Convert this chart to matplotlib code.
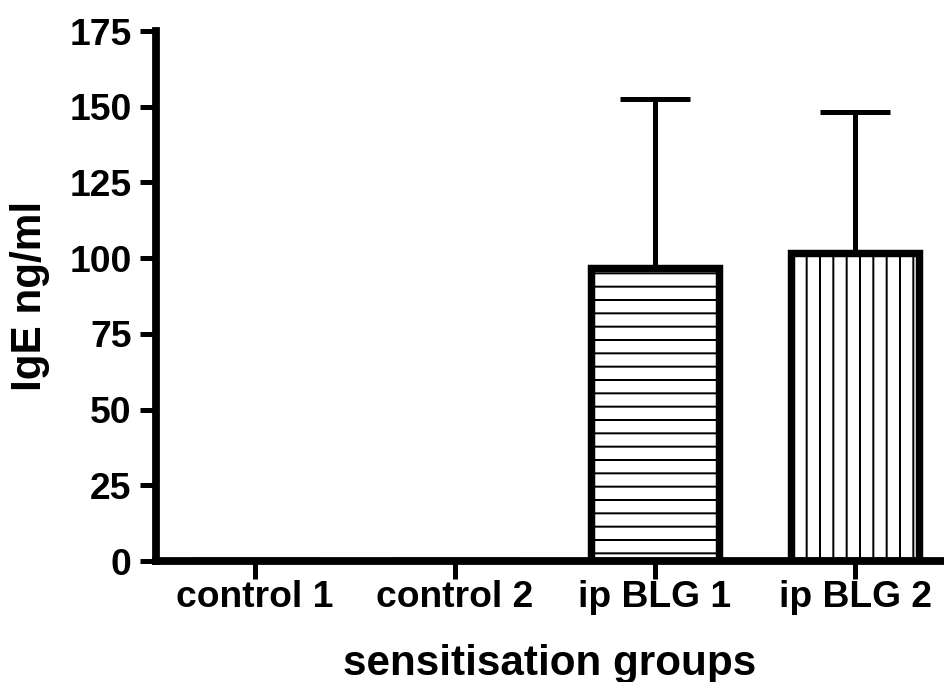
import numpy as np
import matplotlib
matplotlib.use("Agg")
import matplotlib.pyplot as plt

# values
groups = ["control 1", "control 2", "ip BLG 1", "ip BLG 2"]
igE_mean = [0, 0, 96.7, 101.6]
igE_err = [0, 0, 56.0, 46.7]
hatches = ["", "", "-", "|"]

plt.rcParams["font.family"] = ["Liberation Sans", "DejaVu Sans"]
plt.rcParams["font.weight"] = "bold"
plt.rcParams["hatch.linewidth"] = 1.8

fig = plt.figure(figsize=(11.8, 8.525), dpi=80)
ax = fig.add_axes([0.1653, 0.1774, 0.8347, 0.7771])

x = np.arange(len(groups))
bars = ax.bar(x, igE_mean, width=0.64, color="white", edgecolor="black",
              linewidth=6.7, zorder=2)
for b, h in zip(bars, hatches):
    b.set_hatch(h)

# only upper error bars, only where there is something to show
idx = [i for i, e in enumerate(igE_err) if e > 0]
ax.errorbar(x[idx], [igE_mean[i] for i in idx],
            yerr=[[0] * len(idx), [igE_err[i] for i in idx]],
            fmt="none", ecolor="black", elinewidth=4.5, capsize=31.5,
            capthick=4.5, zorder=1)

ax.set_xlim(-0.495, 3.445)
ax.set_ylim(0, 175)
ax.set_yticks(np.arange(0, 176, 25))
ax.set_xticks(x)
ax.set_xticklabels(groups)

for s in ["top", "right"]:
    ax.spines[s].set_visible(False)
for s in ["left", "bottom"]:
    ax.spines[s].set_linewidth(7)
    ax.spines[s].set_capstyle("projecting")

ax.tick_params(axis="y", length=14, width=4.5, labelsize=33.5, pad=8)
ax.tick_params(axis="x", length=16, width=4.5, labelsize=33.5, pad=1)

ax.set_ylabel("IgE ng/ml", fontsize=38, fontweight="bold", labelpad=17)
ax.set_xlabel("sensitisation groups", fontsize=38, fontweight="bold", labelpad=26)

fig.savefig("out.png", dpi=80)
